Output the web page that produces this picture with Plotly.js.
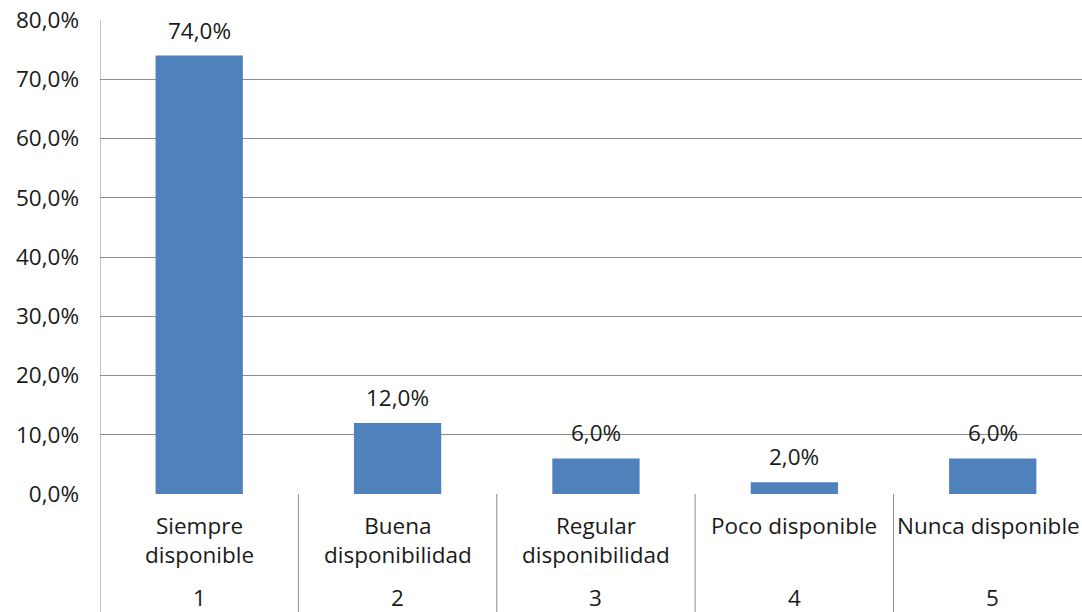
<!DOCTYPE html>
<html><head><meta charset="utf-8">
<script src="https://cdn.plot.ly/plotly-3.0.1.min.js"></script>
<style>html,body{margin:0;padding:0;overflow:hidden;background:#fff}</style>
</head><body>
<div id="chart" style="width:1082px;height:612px"></div>
<script>
const categories = ["Siempre<br>disponible", "Buena<br>disponibilidad", "Regular<br>disponibilidad", "Poco disponible", "Nunca disponible"];
const codes = ["1", "2", "3", "4", "5"];
const values = [74.0, 12.0, 6.0, 2.0, 6.0];
const yTicks = [0, 10, 20, 30, 40, 50, 60, 70, 80];

const FONT = "Open Sans, sans-serif";
const FS = 22.5;
const TXT = "#1a1a1a";
const xIdx = codes.map((c, i) => i);
const fmt = v => v.toFixed(1).replace(".", ",") + "%";

const trace = {
  type: "bar",
  x: xIdx,
  y: values,
  marker: {color: "#4F81BD", line: {width: 0}},
  width: 0.44,
  hoverinfo: "none"
};

const shapes = [];
for (let i = 0; i <= codes.length; i++) {
  shapes.push({type: "line", xref: "x", yref: "paper", x0: i - 0.5, x1: i - 0.5, y0: 0, y1: -0.3,
    line: {color: "#8c8c8c", width: 1}});
}
shapes.push({type: "line", xref: "x", yref: "paper", x0: -0.5, x1: -0.5, y0: 0, y1: 1,
  line: {color: "#8c8c8c", width: 1}});

const annotations = [];
values.forEach((v, i) => {
  annotations.push({xref: "x", yref: "y", x: i, y: v, yanchor: "bottom", yshift: 8, text: fmt(v), showarrow: false,
    font: {family: FONT, size: FS, color: TXT}});
});
categories.forEach((c, i) => {
  annotations.push({xref: "x", yref: "paper", x: i, y: -0.03, yanchor: "top", text: c, showarrow: false,
    xshift: i === categories.length - 1 ? -4 : 0,
    font: {family: FONT, size: FS, color: TXT}, align: "center"});
  annotations.push({xref: "x", yref: "paper", x: i, y: -0.219, yanchor: "middle", text: codes[i], showarrow: false,
    font: {family: FONT, size: FS, color: TXT}});
});

const layout = {
  width: 1082, height: 612,
  margin: {l: 100, r: 0, t: 20, b: 118},
  paper_bgcolor: "#fff", plot_bgcolor: "#fff",
  showlegend: false,
  xaxis: {range: [-0.5, 4.45], showticklabels: false, showgrid: false, zeroline: false, showline: false, ticks: ""},
  yaxis: {range: [0, 80], tickvals: yTicks, ticktext: yTicks.map(fmt),
    showgrid: true, gridcolor: "#8c8c8c", gridwidth: 1, zeroline: false, showline: false, ticks: "",
    ticklabelstandoff: 20,
    tickfont: {family: FONT, size: FS, color: TXT}},
  shapes: shapes,
  annotations: annotations
};

Plotly.newPlot("chart", [trace], layout, {displayModeBar: false, staticPlot: true});
</script>
</body></html>
